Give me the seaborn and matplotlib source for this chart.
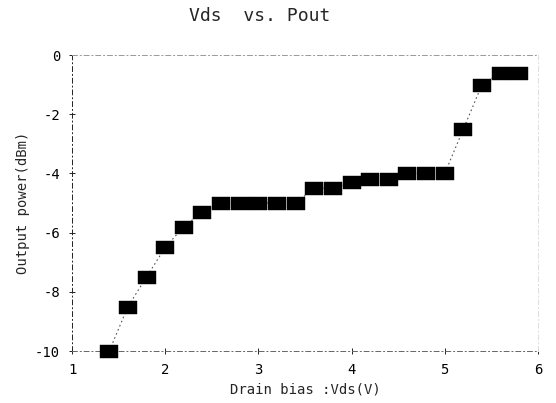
import matplotlib
matplotlib.use("Agg")
import matplotlib.pyplot as plt
from matplotlib.path import Path
import seaborn as sns
import pandas as pd

# Drain bias sweep (V) and measured output power (dBm)
vds = [1.4, 1.6, 1.8, 2.0, 2.2, 2.4, 2.6, 2.8, 3.0, 3.2, 3.4, 3.6,
       3.8, 4.0, 4.2, 4.4, 4.6, 4.8, 5.0, 5.2, 5.4, 5.6, 5.8]
pout = [-10.0, -8.5, -7.5, -6.5, -5.8, -5.3, -5.0, -5.0, -5.0, -5.0, -5.0, -4.5,
        -4.5, -4.3, -4.2, -4.2, -4.0, -4.0, -4.0, -2.5, -1.0, -0.6, -0.6]

x_ticks = [1, 2, 3, 4, 5, 6]
y_ticks = [0, -2, -4, -6, -8, -10]

df = pd.DataFrame({"vds": vds, "pout": pout})

sns.set_theme(style="white")
plt.rcParams["font.family"] = ["DejaVu Sans Mono", "DejaVu Sans"]

fig = plt.figure(figsize=(5.56, 4.03), dpi=100)
ax = fig.add_axes([0.1295, 0.129, 0.838, 0.7345])

# flat rectangular marker
rect = Path([(-0.5, -0.36), (0.5, -0.36), (0.5, 0.36), (-0.5, 0.36), (-0.5, -0.36)],
            [Path.MOVETO, Path.LINETO, Path.LINETO, Path.LINETO, Path.CLOSEPOLY])

sns.lineplot(data=df, x="vds", y="pout", ax=ax, color="#555555",
             linestyle=(0, (1.5, 2.5)), linewidth=0.8, sort=False)
sns.scatterplot(data=df, x="vds", y="pout", ax=ax, marker=rect, s=13 ** 2,
                color="black", edgecolor="black", linewidth=0.3, zorder=3,
                clip_on=False)

ax.set_xlim(1, 6)
ax.set_ylim(-10, 0)
ax.set_xticks(x_ticks)
ax.set_yticks(y_ticks)
ax.set_xticklabels([str(t) for t in x_ticks])
ax.set_yticklabels([str(t) for t in y_ticks])

ax.tick_params(axis="both", which="major", labelsize=10, colors="black",
               direction="inout", length=5, width=0.6, bottom=True, left=True, pad=6)

for side, sp in ax.spines.items():
    sp.set_visible(True)
    sp.set_linewidth(0.7)
    sp.set_linestyle((0, (5, 3, 1, 3)))
    sp.set_color("#666666")
ax.spines["left"].set_color("#222222")
ax.spines["right"].set_color("#dddddd")
ax.spines["top"].set_color("#999999")

ax.set_xlabel("Drain bias :Vds(V)", fontsize=10, labelpad=4)
ax.set_ylabel("Output power(dBm)", fontsize=10, labelpad=4)
fig.text(0.467, 0.96, "Vds  vs. Pout", ha="center", va="center", fontsize=13)

fig.savefig("out.png", dpi=100)
